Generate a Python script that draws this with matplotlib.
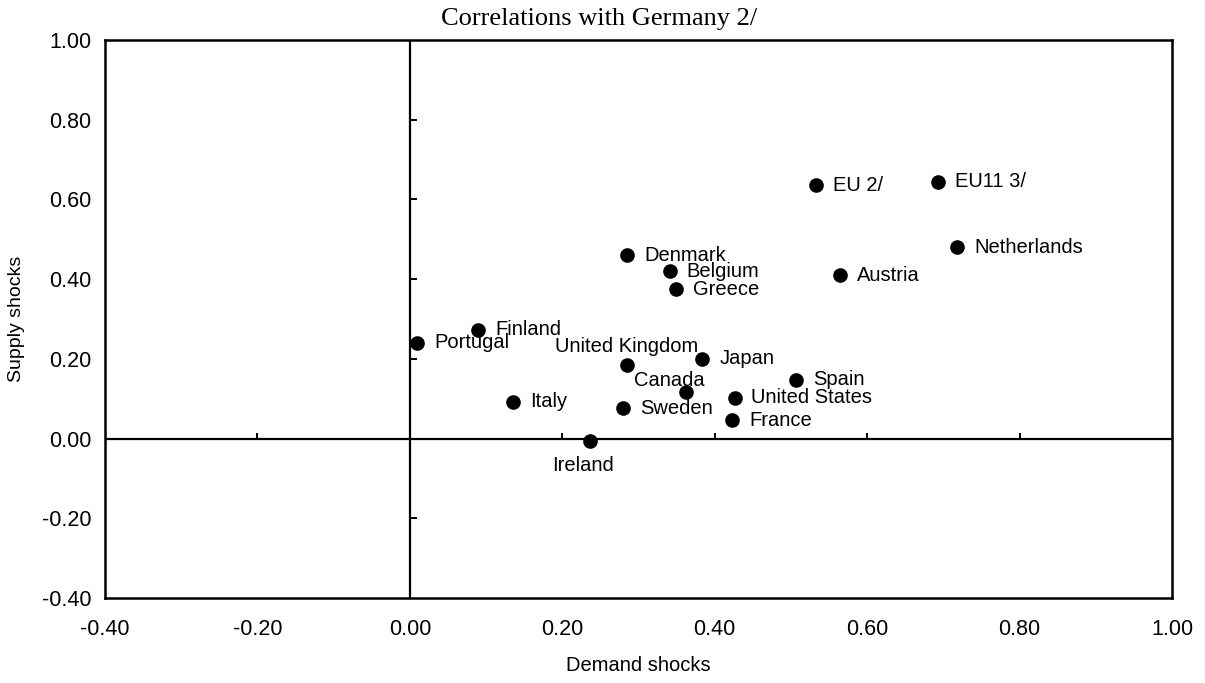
import numpy as np
import matplotlib
matplotlib.use("Agg")
from matplotlib import pyplot as plt

# correlations with Germany: demand shocks (x) and supply shocks (y)
countries = ['Denmark', 'Belgium', 'Greece', 'Finland', 'Portugal', 'United Kingdom',
             'Japan', 'Canada', 'Spain', 'United States', 'Italy', 'Sweden',
             'France', 'Ireland', 'Austria', 'EU 2/', 'EU11 3/', 'Netherlands']
demand = [0.285, 0.341, 0.349, 0.09, 0.01, 0.285,
          0.384, 0.362, 0.507, 0.426, 0.135, 0.28,
          0.423, 0.236, 0.565, 0.533, 0.693, 0.718]
supply = [0.46, 0.42, 0.375, 0.273, 0.24, 0.185,
          0.20, 0.117, 0.147, 0.103, 0.092, 0.076,
          0.046, -0.005, 0.41, 0.635, 0.645, 0.48]

tick_vals = [-0.4, -0.2, 0.0, 0.2, 0.4, 0.6, 0.8, 1.0]

# label offsets in points, default is to the right of the dot
offsets = {
    'United Kingdom': (0, 13.5, 'center'),
    'Canada': (-11.5, 8, 'center'),
    'Ireland': (-4.5, -18, 'center'),
}

plt.rcParams['font.family'] = ['Liberation Sans', 'DejaVu Sans']

fig = plt.figure(figsize=(12.05, 6.83), dpi=100)
ax = fig.add_axes([0.0871, 0.1245, 0.8855, 0.8169])

ax.plot(demand, supply, 'o', color='black', ms=9.5, zorder=3)
for name, x, y in zip(countries, demand, supply):
    dx, dy, ha = offsets.get(name, (12.2, 0, 'left'))
    ax.annotate(name, (x, y), xytext=(dx, dy), textcoords='offset points',
                ha=ha, va='center', fontsize=14.5)

# zero lines with small tick marks
ax.axhline(0, color='black', lw=1.6, zorder=2)
ax.axvline(0, color='black', lw=1.6, zorder=2)
inner = [t for t in tick_vals if t not in (-0.4, 0.0, 1.0)]
ax.vlines(inner, 0, 0.015, color='black', lw=1.4)
ax.hlines(inner, 0, 0.009, color='black', lw=1.4)

ax.set_xlim(-0.4, 1.0)
ax.set_ylim(-0.4, 1.0)
ax.set_xticks(tick_vals)
ax.set_yticks(tick_vals)
ax.set_xticklabels(['%.2f' % t for t in tick_vals])
ax.set_yticklabels(['%.2f' % t for t in tick_vals])
ax.tick_params(axis='both', length=0, labelsize=15.5)
ax.tick_params(axis='x', pad=15)
ax.tick_params(axis='y', pad=10)
for s in ax.spines.values():
    s.set_linewidth(1.8)

ax.set_xlabel('Demand shocks', fontsize=14.5, labelpad=12)
ax.set_ylabel('Supply shocks', fontsize=14, labelpad=12)
fig.text(0.497, 0.972, 'Correlations with Germany 2/', fontsize=19,
         family=['Liberation Serif', 'DejaVu Serif'], ha='center', va='center')

fig.savefig('out.png', dpi=100)
